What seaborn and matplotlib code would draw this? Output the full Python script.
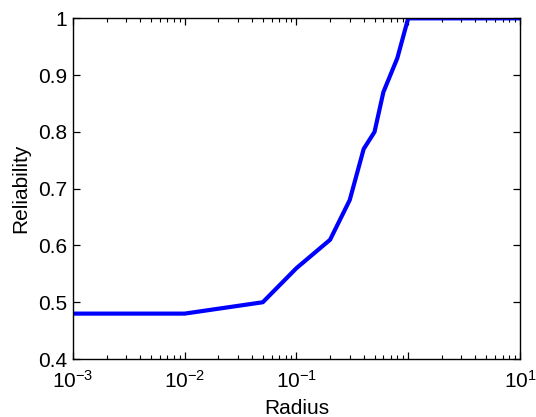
import matplotlib
matplotlib.use("Agg")
import matplotlib.pyplot as plt
from matplotlib.ticker import LogLocator, NullFormatter
import seaborn as sns
import pandas as pd
import numpy as np

radius = [0.001, 0.01, 0.05, 0.1, 0.2, 0.3, 0.4, 0.5, 0.6, 0.8, 1.0, 10.0]
reliability = [0.48, 0.48, 0.50, 0.56, 0.61, 0.68, 0.77, 0.80, 0.87, 0.93, 1.0, 1.0]
x_ticks = [1e-3, 1e-2, 1e-1, 1e0, 1e1]
x_tick_labels = [r"$10^{-3}$", r"$10^{-2}$", r"$10^{-1}$", "", r"$10^{1}$"]
y_ticks = [0.4, 0.5, 0.6, 0.7, 0.8, 0.9, 1.0]
y_tick_labels = ["0.4", "0.5", "0.6", "0.7", "0.8", "0.9", "1"]

sns.set_style("ticks")
plt.rcParams["font.family"] = ["Liberation Sans", "DejaVu Sans"]
plt.rcParams["mathtext.fontset"] = "custom"
plt.rcParams["mathtext.rm"] = "Liberation Sans"
plt.rcParams["mathtext.it"] = "Liberation Sans"
plt.rcParams["mathtext.bf"] = "Liberation Sans"
plt.rcParams["text.color"] = "black"
plt.rcParams["axes.labelcolor"] = "black"
plt.rcParams["xtick.color"] = "black"
plt.rcParams["ytick.color"] = "black"

df = pd.DataFrame({"Radius": radius, "Reliability": reliability})

fig = plt.figure(figsize=(5.36, 4.17), dpi=100)
ax = fig.add_axes([0.136, 0.139, 0.834, 0.817])
sns.lineplot(data=df, x="Radius", y="Reliability", ax=ax, color="#0000ff",
             linewidth=3, sort=False, estimator=None)
ax.set_xscale("log")
ax.set_xlim(1e-3, 10)
ax.set_ylim(0.4, 1.0)
ax.set_xticks(x_ticks)
ax.set_xticklabels(x_tick_labels)
ax.xaxis.set_minor_locator(LogLocator(base=10, subs=np.arange(2, 10), numticks=20))
ax.xaxis.set_minor_formatter(NullFormatter())
ax.set_yticks(y_ticks)
ax.set_yticklabels(y_tick_labels)
ax.tick_params(which="both", direction="in", top=True, right=True, labelsize=15,
               color="black", labelcolor="black")
ax.tick_params(which="major", length=5, width=0.9, pad=4)
ax.tick_params(which="minor", length=3, width=0.8)
ax.tick_params(axis="x", which="major", pad=8)
for s in ax.spines.values():
    s.set_linewidth(1.0)
    s.set_color("black")
ax.set_xlabel("Radius", fontsize=15, labelpad=5, color="black")
ax.set_ylabel("Reliability", fontsize=15, labelpad=6, color="black")

fig.savefig("out.png", dpi=100)
